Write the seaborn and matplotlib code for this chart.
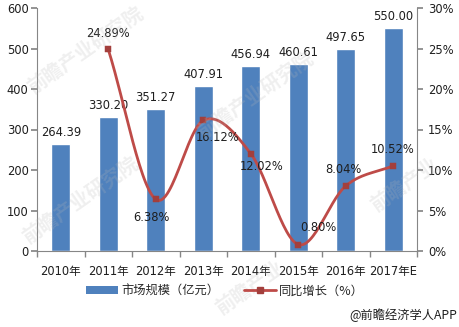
import numpy as np
import pandas as pd
import matplotlib
matplotlib.use("Agg")
import matplotlib.pyplot as plt
from matplotlib.lines import Line2D
from matplotlib.patches import Patch
import seaborn as sns

years = ["2010年", "2011年", "2012年", "2013年", "2014年", "2015年", "2016年", "2017年E"]
market_size = [264.39, 330.20, 351.27, 407.91, 456.94, 460.61, 497.65, 550.00]
growth = [np.nan, 24.89, 6.38, 16.12, 12.02, 0.80, 8.04, 10.52]
left_ticks = [0, 100, 200, 300, 400, 500, 600]
right_ticks = [0, 5, 10, 15, 20, 25, 30]

BAR = "#4F81BD"
LINE = "#BE4B48"
MARK = "#A33F3C"
AXIS = "#868686"
TEXT = "#1E1E1E"

sns.set_theme(style="white")
plt.rcParams["font.family"] = ["Noto Sans CJK SC", "DejaVu Sans"]

fig = plt.figure(figsize=(4.59, 3.27), dpi=100)

# faint diagonal brand marks behind the chart
for (wx, wy, txt) in [(85, 50, "前瞻产业研究院"), (255, 95, "前瞻产业研究院"),
                      (80, 200, "前瞻产业研究院"), (405, 185, "前瞻产业"),
                      (250, 288, "前瞻产业")]:
    fig.text(wx / 459, 1 - wy / 327, txt, rotation=35, ha="center", va="center",
             fontsize=14, fontweight="bold", color="#B8B8B8", alpha=0.22, zorder=0)

ax = fig.add_axes([37 / 459, 1 - 251 / 327, 380 / 459, 243 / 327])
ax.patch.set_alpha(0)

df = pd.DataFrame({"year": years, "size": market_size})
sns.barplot(data=df, x="year", y="size", color=BAR, saturation=1, width=0.4, ax=ax)
ax.set_xlim(-0.5, len(years) - 0.5)
ax.set_ylim(0, 600)
ax.set_yticks(left_ticks)
ax.set_xlabel("")
ax.set_ylabel("")

for i, v in enumerate(market_size):
    ax.annotate(f"{v:.2f}", (i, v), xytext=(0, 5), textcoords="offset pixels",
                ha="center", va="bottom", fontsize=8.3, color=TEXT,
                family=["DejaVu Sans"])

for s in ["top", "right"]:
    ax.spines[s].set_visible(False)
for s in ["left", "bottom"]:
    ax.spines[s].set_color(AXIS)
    ax.spines[s].set_linewidth(0.8)
ax.tick_params(axis="y", length=4, color=AXIS, labelsize=8.3, pad=2, direction="out", left=True)
ax.tick_params(axis="x", length=0, labelsize=8.3, pad=10)
for lbl in ax.get_yticklabels() + ax.get_xticklabels():
    lbl.set_fontfamily(["DejaVu Sans", "Noto Sans CJK SC"])
    lbl.set_color(TEXT)
# tick marks sit on the category boundaries
ax.set_xticks(np.arange(-0.5, len(years), 1.0), minor=True)
ax.tick_params(axis="x", which="minor", length=4, color=AXIS, bottom=True, direction="out")

ax2 = ax.twinx()
ax2.patch.set_alpha(0)
ax2.set_ylim(0, 30)
ax2.set_yticks(right_ticks)
ax2.set_yticklabels([f"{t}%" for t in right_ticks])
for s in ["top", "left", "bottom"]:
    ax2.spines[s].set_visible(False)
ax2.spines["right"].set_color(AXIS)
ax2.spines["right"].set_linewidth(0.8)
ax2.tick_params(axis="y", length=4, color=AXIS, labelsize=8.3, pad=4, direction="out", right=True)
for lbl in ax2.get_yticklabels():
    lbl.set_fontfamily(["DejaVu Sans"])
    lbl.set_color(TEXT)
ax2.grid(False)

# smoothed growth curve (Catmull-Rom through the yearly points)
gx = np.array([i for i, g in enumerate(growth) if not np.isnan(g)], dtype=float)
gy = np.array([g for g in growth if not np.isnan(g)], dtype=float)
px = np.concatenate([[2 * gx[0] - gx[1]], gx, [2 * gx[-1] - gx[-2]]])
py = np.concatenate([[2 * gy[0] - gy[1]], gy, [2 * gy[-1] - gy[-2]]])
cx, cy = [], []
t = np.linspace(0, 1, 30)
for k in range(1, len(px) - 2):
    for arr, out in ((px, cx), (py, cy)):
        p0, p1, p2, p3 = arr[k - 1], arr[k], arr[k + 1], arr[k + 2]
        seg = 0.5 * ((2 * p1) + (-p0 + p2) * t + (2 * p0 - 5 * p1 + 4 * p2 - p3) * t ** 2
                     + (-p0 + 3 * p1 - 3 * p2 + p3) * t ** 3)
        out.extend(seg)
curve = pd.DataFrame({"x": cx, "y": cy})
sns.lineplot(data=curve, x="x", y="y", sort=False, color=LINE, lw=2.0, ax=ax2)
sns.scatterplot(x=gx, y=gy, marker="s", s=18, color=MARK, edgecolor=MARK, ax=ax2, zorder=5)
ax2.set_xlabel("")
ax2.set_ylabel("")
ax2.set_xlim(-0.5, len(years) - 0.5)

offsets = {1: (0, 16), 2: (-4, -18), 3: (14, -17), 4: (11, -13), 5: (20, 17), 6: (-2, 16), 7: (-1, 16)}
for i, g in enumerate(growth):
    if np.isnan(g):
        continue
    dx, dy = offsets[i]
    ax2.annotate(f"{g:.2f}%", (i, g), xytext=(dx, dy), textcoords="offset pixels",
                 ha="center", va="center", fontsize=8.3, color=TEXT,
                 family=["DejaVu Sans"], zorder=6)

handles = [Patch(facecolor=BAR, edgecolor="none"),
           Line2D([0], [0], color=LINE, lw=2.0, marker="s", markersize=4,
                  markerfacecolor=MARK, markeredgecolor=MARK)]
fig.legend(handles, ["市场规模（亿元）", "同比增长（%）"], loc="center",
           bbox_to_anchor=(225 / 459, 1 - 291 / 327), ncol=2, frameon=False,
           fontsize=8.8, handlelength=2.6, handleheight=0.6, columnspacing=2.0,
           handletextpad=0.3)

fig.text(457 / 459, 1 - 315 / 327, "@前瞻经济学人APP", ha="right", va="center",
         fontsize=8.8, color=TEXT)

fig.savefig("out.png", dpi=100)
